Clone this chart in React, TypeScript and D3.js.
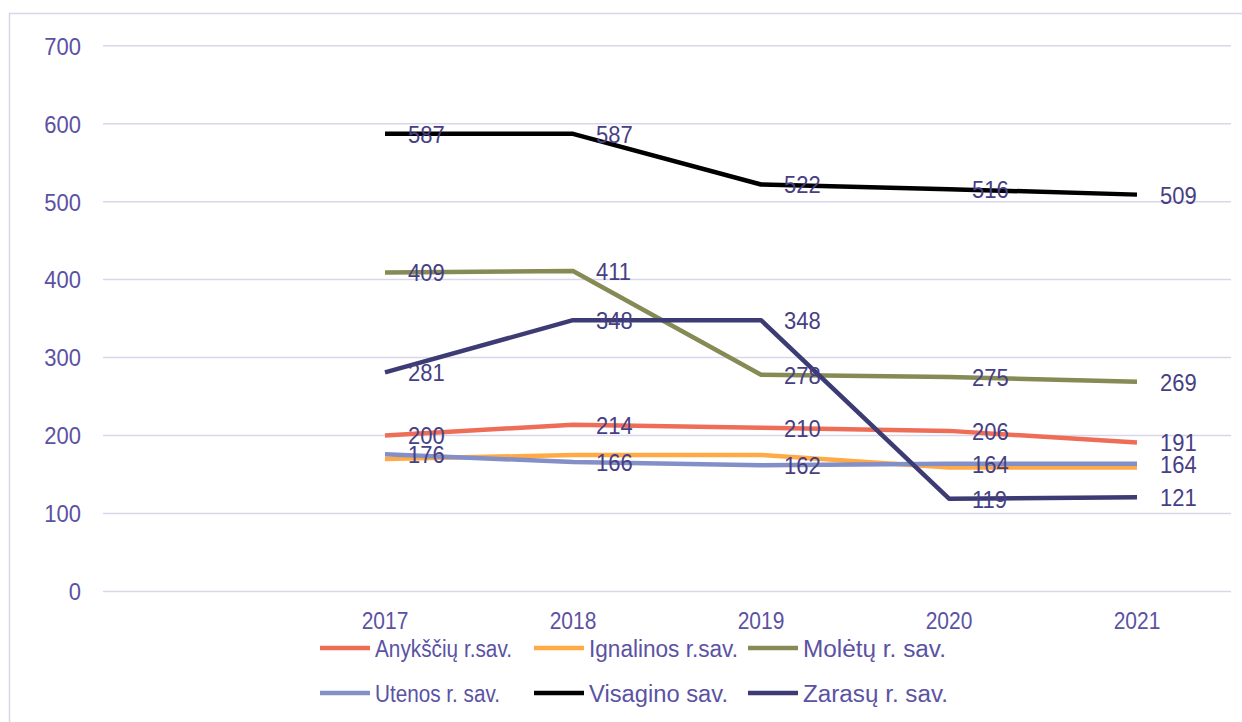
import React from "react";
import * as d3 from "d3";

const categories = ["", "2017", "2018", "2019", "2020", "2021"];
const yTicks = [0, 100, 200, 300, 400, 500, 600, 700];

const seriesNames = [
  "Anykščių r.sav.",
  "Ignalinos r.sav.",
  "Molėtų r. sav.",
  "Utenos r. sav.",
  "Visagino sav.",
  "Zarasų r. sav.",
];
const anyksciu = [null, 200, 214, 210, 206, 191];
const ignalinos = [null, 170, 175, 175, 159, 159];
const moletu = [null, 409, 411, 278, 275, 269];
const utenos = [null, 176, 166, 162, 164, 164];
const visagino = [null, 587, 587, 522, 516, 509];
const zarasu = [null, 281, 348, 348, 119, 121];
const seriesValues = [anyksciu, ignalinos, moletu, utenos, visagino, zarasu];
const seriesColors = ["#EE6D56", "#FFAA45", "#868A55", "#838FC7", "#000000", "#3D3B73"];
const showLabels = [true, false, true, true, true, true];

const W = 1242;
const H = 722;
const plotLeft = 103;
const plotRight = 1231;
const plotTop = 45.7;
const plotBottom = 591.5;

const gridColor = "#D9D6EC";
const tickColor = "#5B52A3";
const labelColor = "#473F84";
const font = "'Liberation Sans', Arial, sans-serif";
const vStretch = 1.12;
const legendTextWidths = [137, 149, 143, 125, 139, 145];

function SText(props: {
  x: number;
  y: number;
  anchor?: "start" | "middle" | "end";
  size: number;
  fill: string;
  children: React.ReactNode;
  textLength?: number;
}) {
  const { x, y, anchor = "start", size, fill, children, textLength } = props;
  return (
    <text
      transform={`translate(${x},${y}) scale(1,${vStretch})`}
      dy="0.36em"
      textAnchor={anchor}
      fontSize={size}
      fill={fill}
      textLength={textLength}
      lengthAdjust={textLength ? "spacingAndGlyphs" : undefined}
    >
      {children}
    </text>
  );
}

export default function App() {
  const x = d3.scaleBand<string>().domain(categories).range([plotLeft, plotRight]).padding(0);
  const y = d3.scaleLinear().domain([0, 700]).range([plotBottom, plotTop]);
  const cx = (c: string) => (x(c) as number) + x.bandwidth() / 2;

  const line = d3
    .line<number | null>()
    .defined((d) => d !== null)
    .x((_, i) => cx(categories[i]))
    .y((d) => y(d as number));

  const legendCols = [320, 534, 748];
  const legendRows = [648, 693];

  return (
    <svg
      width={W}
      height={H}
      style={{ position: "absolute", left: 0, top: 0, background: "#fff" }}
      fontFamily={font}
    >
      <rect x={9.5} y={13.5} width={1260} height={740} fill="none" stroke={gridColor} strokeWidth={1.5} />
      {yTicks.map((t) => (
        <g key={t}>
          <line x1={plotLeft} x2={plotRight} y1={y(t)} y2={y(t)} stroke={gridColor} strokeWidth={1.5} />
          <SText x={81} y={y(t)} anchor="end" size={22} fill={tickColor}>
            {t}
          </SText>
        </g>
      ))}
      {categories.map((c) =>
        c ? (
          <SText key={c} x={cx(c)} y={621} anchor="middle" size={21} fill={tickColor}>
            {c}
          </SText>
        ) : null
      )}
      {seriesValues.map((vals, si) => (
        <path
          key={si}
          d={line(vals) || ""}
          fill="none"
          stroke={seriesColors[si]}
          strokeWidth={4.5}
          strokeLinejoin="round"
        />
      ))}
      {seriesValues.map((vals, si) =>
        showLabels[si]
          ? vals.map((v, i) =>
              v === null ? null : (
                <SText key={`${si}-${i}`} x={cx(categories[i]) + 23} y={y(v)} size={22} fill={labelColor}>
                  {v}
                </SText>
              )
            )
          : null
      )}
      {seriesNames.map((name, si) => {
        const lx = legendCols[si % 3];
        const ly = legendRows[Math.floor(si / 3)];
        return (
          <g key={name}>
            <line x1={lx} x2={lx + 50} y1={ly} y2={ly} stroke={seriesColors[si]} strokeWidth={4.5} />
            <SText x={lx + 55} y={ly} size={22} fill={tickColor} textLength={legendTextWidths[si]}>
              {name}
            </SText>
          </g>
        );
      })}
    </svg>
  );
}
